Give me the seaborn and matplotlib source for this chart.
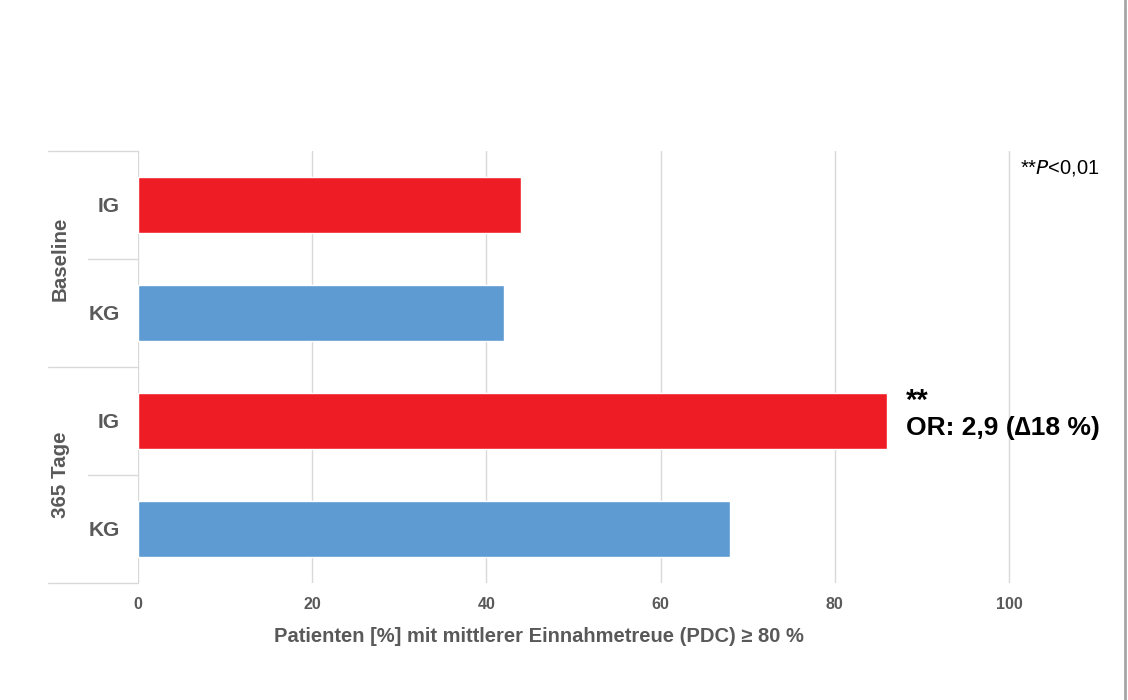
import matplotlib
matplotlib.use("Agg")
import matplotlib.pyplot as plt
import matplotlib.transforms as mtransforms
from matplotlib.lines import Line2D
import seaborn as sns
import pandas as pd

# Data
keys = ["Baseline_IG", "Baseline_KG", "365_IG", "365_KG"]
bar_labels = ["IG", "KG", "IG", "KG"]
groups = ["IG", "KG", "IG", "KG"]
values = [44, 42, 86, 68]
period_labels = ["Baseline", "365 Tage"]
xticks = [0, 20, 40, 60, 80, 100]
colors = {"IG": "#EE1D25", "KG": "#5E9BD3"}

sns.set_theme(style="white")
plt.rcParams['font.family'] = ['Liberation Sans', 'DejaVu Sans']
gray = "#595959"

df = pd.DataFrame({"key": keys, "value": values, "group": groups})

fig = plt.figure(figsize=(11.28, 7.0), dpi=100)
ax = fig.add_axes([138/1128, 1-583/700, (1096-138)/1128, (583-151)/700])

sns.barplot(data=df, x="value", y="key", hue="group", palette=colors,
            order=keys, dodge=False, width=0.51, legend=False, ax=ax,
            saturation=1)

ax.set_xlim(0, 110)
ax.set_ylim(3.5, -0.5)
for s in ax.spines.values():
    s.set_visible(False)
ax.set_xticks(xticks)
ax.set_xticklabels([str(t) for t in xticks], fontsize=11.5, fontweight='bold', color=gray)
ax.tick_params(axis='x', length=0, pad=10)
ax.xaxis.grid(True, color="#D9D9D9", linewidth=1)
ax.set_axisbelow(True)
ax.set_yticks(range(len(keys)))
ax.set_yticklabels(bar_labels, fontsize=15, fontweight='bold', color=gray)
ax.tick_params(axis='y', length=0, pad=13)
ax.set_ylabel("")
ax.set_xlabel("")
fig.text(539/1128, 1-637/700,
         "Patienten [%] mit mittlerer Einnahmetreue (PDC) \u2265 80 %",
         fontsize=14.5, fontweight='bold', color=gray, ha='center', va='center')

# Category frame lines on the left
trans = mtransforms.blended_transform_factory(fig.transFigure, ax.transData)
xl_outer = 48/1128
xl_inner = 88/1128
x_axis = 138/1128
line_kw = dict(color="#D9D9D9", linewidth=1, transform=trans, clip_on=False)
for yv in [-0.5, 1.5, 3.5]:
    fig.add_artist(Line2D([xl_outer, x_axis], [yv, yv], **line_kw))
for yv in [0.5, 2.5]:
    fig.add_artist(Line2D([xl_inner, x_axis], [yv, yv], **line_kw))

# Period labels
for i, lab in enumerate(period_labels):
    ax.text(60/1128, 0.5 + 2*i, lab, transform=trans, rotation=90,
            ha='center', va='center', fontsize=14.8, fontweight='bold', color=gray)

# Annotations
ax.text(88.2, 1.89, "**", fontsize=21, fontweight='bold', color='black',
        ha='left', va='baseline')
ax.text(88.2, 2.13, "OR: 2,9 (\u220618 %)", fontsize=19, fontweight='bold',
        color='black', ha='left', va='baseline')
fig.text(1020/1128, 1-168/700, r"**$\it{P}$<0,01", fontsize=14.5, color='black',
         ha='left', va='center')

# Right page border
fig.add_artist(Line2D([1125/1128, 1125/1128], [0, 1], color="#A6A6A6",
                      linewidth=2, transform=fig.transFigure))

fig.savefig("out.png", dpi=100, facecolor='white')
